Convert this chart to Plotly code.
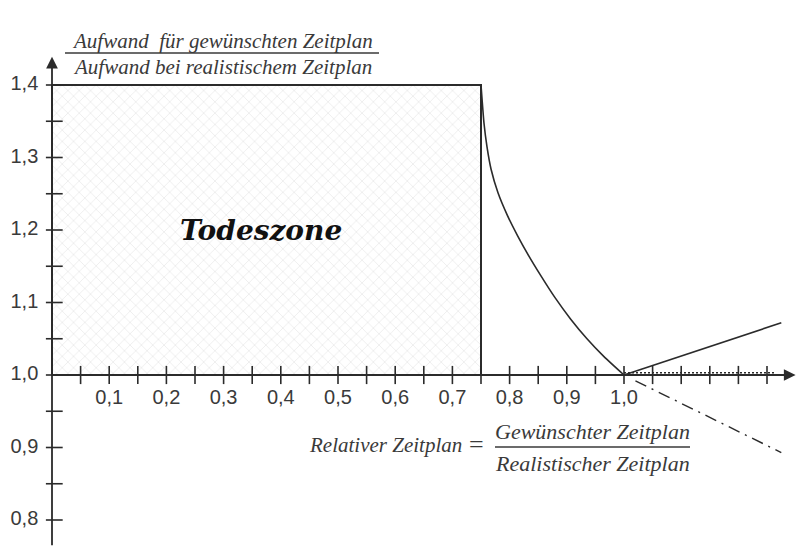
import plotly.graph_objects as go

# ---------------- data ----------------
zone_x = [0.0, 0.0, 0.75, 0.75, 0.0]
zone_y = [1.0, 1.4, 1.4, 1.0, 1.0]

curve_x = [0.75, 0.7552, 0.7605, 0.7675, 0.7797, 0.7963, 0.8138, 0.833, 0.854, 0.8785, 0.9065, 0.9353, 0.965, 1.0]
curve_y = [1.40, 1.3476, 1.3145, 1.2841, 1.2513, 1.2199, 1.1923, 1.165, 1.1377, 1.1077, 1.0774, 1.0501, 1.0254, 1.0]

rise_x = [1.0, 1.275]
rise_y = [1.0, 1.072]

drop_x = [1.02, 1.275]
drop_y = [0.992, 0.893]

x_ticks = [0.05, 0.10, 0.15, 0.20, 0.25, 0.30, 0.35, 0.40, 0.45, 0.50, 0.55, 0.60,
           0.65, 0.70, 0.75, 0.80, 0.85, 0.90, 0.95, 1.00, 1.05, 1.10, 1.15, 1.20, 1.25]
x_label_vals = [0.1, 0.2, 0.3, 0.4, 0.5, 0.6, 0.7, 0.8, 0.9, 1.0]
x_labels = ["0,1", "0,2", "0,3", "0,4", "0,5", "0,6", "0,7", "0,8", "0,9", "1,0"]

y_ticks = [0.80, 0.85, 0.90, 0.95, 1.00, 1.05, 1.10, 1.15, 1.20, 1.25, 1.30, 1.35, 1.40]
y_label_vals = [0.8, 0.9, 1.0, 1.1, 1.2, 1.3, 1.4]
y_labels = ["0,8", "0,9", "1,0", "1,1", "1,2", "1,3", "1,4"]

x_axis_end = 1.30
y_axis_start = 0.763
y_axis_end = 1.439

# ---------------- figure ----------------
W, H = 800, 557
XR = [-52 / 572, 748 / 572]
YR = [1 - 182 / 725, 1 + 375 / 725]
INK = "#2b2b2b"
TXT = "#3a3a3a"

fig = go.Figure()

# Todeszone hatched rectangle
fig.add_trace(go.Scatter(
    x=zone_x, y=zone_y, mode="lines", fill="toself",
    fillcolor="white",
    fillpattern=dict(shape="x", fgcolor="#d4d4d4", bgcolor="white", size=8, solidity=0.18),
    line=dict(color=INK, width=2), hoverinfo="skip", showlegend=False))

# curve falling to 1.0
fig.add_trace(go.Scatter(x=curve_x, y=curve_y, mode="lines",
                         line=dict(color=INK, width=1.6, shape="spline", smoothing=0.5),
                         showlegend=False, hoverinfo="skip"))
# rising line
fig.add_trace(go.Scatter(x=rise_x, y=rise_y, mode="lines",
                         line=dict(color=INK, width=1.6), showlegend=False, hoverinfo="skip"))
# dash-dot line
fig.add_trace(go.Scatter(x=drop_x, y=drop_y, mode="lines",
                         line=dict(color=INK, width=1.4, dash="12px,6px,2px,6px"),
                         showlegend=False, hoverinfo="skip"))

# dotted decoration on axis beyond 1.0
fig.add_trace(go.Scatter(x=[1.0, 1.265], y=[1.003, 1.003], mode="lines",
                         line=dict(color=INK, width=1.5, dash="2px,2px"),
                         showlegend=False, hoverinfo="skip"))

# tick marks
fig.add_trace(go.Scatter(x=x_ticks, y=[1.0] * len(x_ticks), mode="markers",
                         marker=dict(symbol="line-ns", size=13, line=dict(width=1.6, color=INK)),
                         showlegend=False, hoverinfo="skip"))
fig.add_trace(go.Scatter(x=[0.004] * len(y_ticks), y=y_ticks, mode="markers",
                         marker=dict(symbol="line-ew", size=12, line=dict(width=1.6, color=INK)),
                         showlegend=False, hoverinfo="skip"))

# tick labels
fig.add_trace(go.Scatter(x=x_label_vals, y=[0.967] * len(x_label_vals), mode="text",
                         text=x_labels, textposition="middle center",
                         textfont=dict(family="Liberation Sans, Arial", size=20, color=TXT),
                         showlegend=False, hoverinfo="skip"))
fig.add_trace(go.Scatter(x=[-0.024] * len(y_label_vals), y=y_label_vals, mode="text",
                         text=y_labels, textposition="middle left",
                         textfont=dict(family="Liberation Sans, Arial", size=20, color=TXT),
                         showlegend=False, hoverinfo="skip"))


def txt(px, py, s, size=19, anchor="center"):
    return dict(x=px / W, y=1 - py / H, xref="paper", yref="paper", showarrow=False,
                xanchor=anchor, yanchor="middle", text=s,
                font=dict(family="Liberation Serif", size=size, color=TXT))


annotations = [
    # x axis with arrow
    dict(x=x_axis_end, y=1.0, ax=0.0, ay=1.0, xref="x", yref="y", axref="x", ayref="y",
         text="", showarrow=True, arrowhead=2, arrowsize=1.3, arrowwidth=1.8, arrowcolor=INK,
         standoff=0, startstandoff=0),
    # y axis with arrow
    dict(x=0.0, y=y_axis_end, ax=0.0, ay=y_axis_start, xref="x", yref="y", axref="x", ayref="y",
         text="", showarrow=True, arrowhead=2, arrowsize=1.3, arrowwidth=1.8, arrowcolor=INK,
         standoff=0, startstandoff=0),
    # Todeszone label
    dict(x=0.365, y=1.2, xref="x", yref="y", text="<b><i>Todeszone</i></b>", showarrow=False,
         xanchor="center", yanchor="middle",
         font=dict(family="DejaVu Serif", size=28, color="#111111")),
    # y-axis title fraction
    txt(222, 41, "<i>Aufwand  für gewünschten Zeitplan</i>", 21),
    txt(222, 67, "<i>Aufwand bei realistischem Zeitplan</i>", 21),
    # x-axis title
    txt(464, 445, "<i>Relativer Zeitplan</i>", 21, "right"),
    txt(477, 444, "=", 26),
    txt(592, 431, "<i>Gewünschter Zeitplan</i>", 22),
    txt(592, 463, "<i>Realistischer Zeitplan</i>", 22),
]

shapes = [
    dict(type="line", xref="paper", yref="paper", x0=65 / W, x1=379 / W,
         y0=1 - 53 / H, y1=1 - 53 / H, line=dict(color=TXT, width=1.3)),
    dict(type="line", xref="paper", yref="paper", x0=495 / W, x1=690 / W,
         y0=1 - 447 / H, y1=1 - 447 / H, line=dict(color=TXT, width=1.3)),
]

fig.update_layout(
    width=W, height=H, margin=dict(l=0, r=0, t=0, b=0),
    paper_bgcolor="white", plot_bgcolor="white",
    xaxis=dict(range=XR, visible=False, fixedrange=True),
    yaxis=dict(range=YR, visible=False, fixedrange=True),
    annotations=annotations, shapes=shapes, showlegend=False,
)

fig.write_html("out.html", config={"displayModeBar": False, "staticPlot": True},
               post_script="document.body.style.margin='0px';document.body.style.overflow='hidden';")
